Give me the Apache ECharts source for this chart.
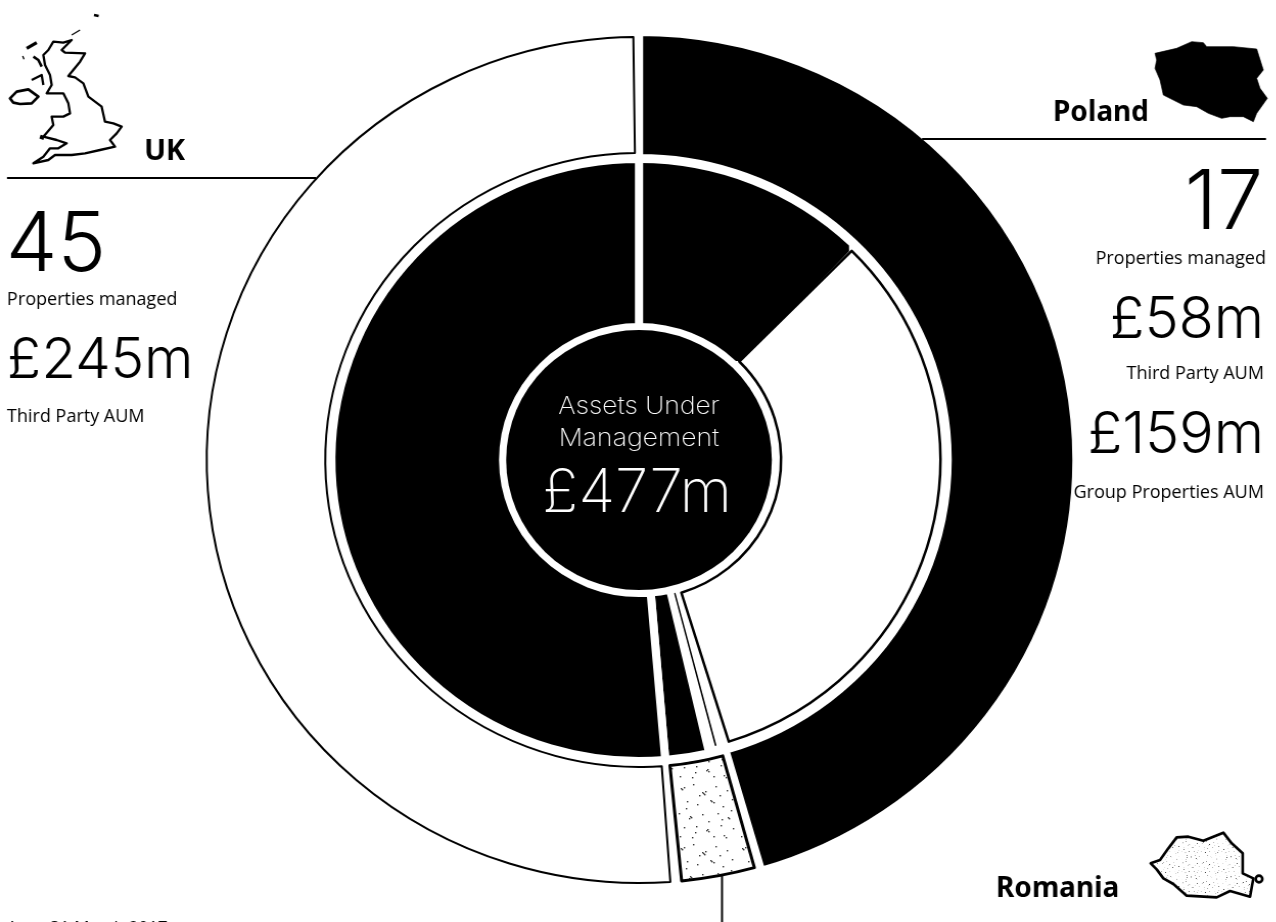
<!DOCTYPE html>
<html>
<head>
<meta charset="utf-8">
<title>Assets Under Management</title>
<style>
  html, body { margin: 0; padding: 0; background: #fff; overflow: hidden; }
  #viewport { width: 1276px; height: 922px; overflow: hidden; }
  #chart { height: 922px; transform-origin: 0 0; }
</style>
<script src="https://cdn.jsdelivr.net/npm/echarts@6/dist/echarts.min.js"></script>
</head>
<body>
<div id="viewport"><div id="chart"></div></div>
<script>
// Portfolio values in GBP millions
const totalAum = 477;
const outerNames = ['Poland', 'Romania', 'UK'];
const outerValues = [217, 15, 245];
const innerNames = ['Poland third party', 'Poland group properties', 'Romania group properties', 'Romania third party', 'UK third party'];
const innerValues = [58, 159, 4, 11, 245];

const labelsUK = ['45', 'Properties managed', '£245m', 'Third Party AUM'];
const labelsPoland = ['17', 'Properties managed', '£58m', 'Third Party AUM', '£159m', 'Group Properties AUM'];

// The rings are slightly wider than tall, so the drawing is stretched horizontally
const STRETCH = 1.022;
const PAGE_W = 1276;
const el = document.getElementById('chart');
el.style.width = (PAGE_W / STRETCH) + 'px';
el.style.transform = 'scaleX(' + STRETCH + ')';

const CX = 639 / STRETCH, CY = 460;
const LIGHT = 'Inter', BODY = '"Open Sans"', HEAD = '"Noto Sans"';

// Sparse speckle tile for the Romania wedge
const specks = [[6,8],[7,9],[9,7],[18,4],[27,12],[28,13],[30,11],[29,14],[40,6],[51,10],[12,21],[22,24],[35,20],[36,21],[38,22],[47,26],[56,19],[4,33],[15,36],[16,37],[14,38],[27,34],[42,33],[52,37],[53,38],[9,47],[21,46],[31,50],[32,49],[33,51],[45,45],[57,48],[5,56],[17,57],[38,56],[48,55],[50,57],[24,15],[44,15],[11,28],[33,41],[46,39],[20,52],[55,30]];
function speckleTile() {
  const c = document.createElement('canvas');
  c.width = c.height = 60;
  const g = c.getContext('2d');
  g.fillStyle = '#fff';
  g.fillRect(0, 0, 60, 60);
  g.fillStyle = '#333';
  specks.forEach(function (p) { g.fillRect(p[0], p[1], 1.4, 1.4); });
  return c;
}
const speckle = { image: speckleTile(), repeat: 'repeat' };

const hidden = { color: 'transparent', borderWidth: 0 };
const solid = { color: '#000', borderColor: '#fff', borderWidth: 8 };

function ring(names, values, radius, padAngle, styles) {
  return {
    type: 'pie',
    silent: true,
    animation: false,
    center: [CX, CY],
    radius: radius,
    startAngle: 90,
    clockwise: true,
    padAngle: padAngle,
    avoidLabelOverlap: false,
    label: { show: false },
    labelLine: { show: false },
    emphasis: { disabled: true },
    data: names.map(function (n, i) {
      return { name: n, value: values[i], itemStyle: styles[n] || hidden };
    })
  };
}

const series = [
  // Outer ring: country split
  ring(outerNames, outerValues, [302, 428], 0, { Poland: solid }),
  ring(outerNames, outerValues, [307, 423], 1.5, {
    UK: { color: '#fff', borderColor: '#000', borderWidth: 2 },
    Romania: { color: speckle, borderColor: '#000', borderWidth: 3 }
  }),
  // Inner ring: third party against group properties
  ring(innerNames, innerValues, [141, 293], 0, {
    'Poland third party': { color: '#000', borderColor: '#000', borderWidth: 8, borderJoin: 'bevel' }
  }),
  ring(innerNames, innerValues, [133, 301], 0, {
    'Romania third party': solid,
    'UK third party': solid
  }),
  ring(innerNames, innerValues, [139, 295], 2.2, {
    'Poland group properties': { color: '#fff', borderColor: '#000', borderWidth: 2.5 }
  }),
  ring(innerNames, innerValues, [138, 295], 2.95, {
    'Romania group properties': { color: '#000', borderColor: '#000', borderWidth: 1.2 }
  }),
  // Centre disc
  ring(['Total'], [totalAum], [0, 130], 0, { Total: { color: '#000', borderWidth: 0 } })
];

function text(str, x, y, size, font, align, opts) {
  opts = opts || {};
  return {
    type: 'text',
    z: 100,
    x: x,
    y: y,
    scaleX: opts.scaleX || 1,
    silent: true,
    style: {
      text: str,
      fill: opts.fill || '#000',
      font: (opts.weight || 400) + ' ' + size + 'px ' + font,
      align: align,
      verticalAlign: 'middle'
    }
  };
}
function rule(x1, y1, x2, y2, w) {
  return { type: 'line', z: 100, silent: true, shape: { x1: x1, y1: y1, x2: x2, y2: y2 }, style: { stroke: '#000', lineWidth: w || 2 } };
}

// Outline traces, each in 3x units and scaled down by its group
function shapeGroup(x, y, children) {
  return { type: 'group', x: x, y: y, scaleX: 1 / 3, scaleY: 1 / 3, silent: true, children: children };
}
function outline(points, w, fill) {
  return { type: 'polygon', z: 100, silent: true, shape: { points: points }, style: { fill: fill || 'none', stroke: '#000', lineWidth: w, lineJoin: 'round' } };
}
function stroke(points, w) {
  return { type: 'polyline', z: 100, silent: true, shape: { points: points }, style: { fill: 'none', stroke: '#000', lineWidth: w, lineJoin: 'round' } };
}

const ukMap = shapeGroup(0, 0, [
  outline([[215,120],[190,128],[160,125],[145,150],[130,165],[135,195],[150,225],[155,255],[140,280],[165,280],[190,280],[205,310],[210,340],[190,350],[155,350],[160,375],[130,410],[170,420],[200,430],[175,445],[150,445],[130,470],[100,490],[145,480],[165,465],[215,465],[255,460],[300,450],[345,440],[330,420],[350,400],[365,380],[340,370],[315,365],[305,320],[265,290],[250,250],[225,232],[205,228],[240,185],[255,160],[195,158],[185,150]], 7),
  outline([[30,295],[50,275],[85,268],[115,290],[95,310],[60,312],[40,308]], 8),
  stroke([[80,145],[110,128]], 10),
  stroke([[100,170],[115,180],[125,200]], 8),
  stroke([[95,240],[125,225],[130,255]], 7),
  stroke([[282,45],[296,48]], 8),
  stroke([[215,105],[240,90]], 4),
  stroke([[68,168],[72,178]], 4),
  stroke([[120,410],[132,414]], 12)
]);
const polandMap = shapeGroup(1000, 0, [
  outline([[465,160],[530,145],[575,125],[610,128],[620,140],[700,140],[770,147],[790,210],[770,235],[780,265],[802,295],[770,340],[760,365],[730,350],[690,350],[665,355],[625,340],[590,320],[550,315],[490,285],[480,240],[465,205],[470,180]], 2, '#000')
]);
const romaniaMap = shapeGroup(960, 780, [
  outline([[572,250],[600,240],[625,205],[650,172],[685,170],[730,182],[790,158],[815,190],[848,220],[848,280],[880,295],[870,350],[810,333],[770,352],[680,347],[640,312],[610,295],[590,268]], 8, speckle),
  { type: 'circle', z: 100, silent: true, shape: { cx: 897, cy: 297, r: 10 }, style: { fill: '#fff', stroke: '#000', lineWidth: 8 } }
]);

const overlay = [
  rule(7, 178, 316, 178),
  rule(922, 139, 1266, 139),
  rule(722, 875, 722, 922),
  ukMap, polandMap, romaniaMap,
  text('UK', 144, 152, 29, HEAD, 'left', { weight: 700 }),
  text('Poland', 1053, 113, 28, HEAD, 'left', { weight: 700 }),
  text('Romania', 996, 889, 28, HEAD, 'left', { weight: 700 }),
  text(labelsUK[0], 6, 246, 82, LIGHT, 'left', { weight: 300 }),
  text(labelsUK[1], 7, 300, 18, BODY, 'left'),
  text(labelsUK[2], 7, 361, 56.5, LIGHT, 'left', { weight: 300 }),
  text(labelsUK[3], 7, 416.5, 18, BODY, 'left'),
  text(labelsPoland[0], 1263, 204, 82, LIGHT, 'right', { weight: 300 }),
  text(labelsPoland[1], 1266, 259, 18, BODY, 'right'),
  text(labelsPoland[2], 1264, 321, 57.5, LIGHT, 'right', { weight: 300 }),
  text(labelsPoland[3], 1264, 374, 18, BODY, 'right'),
  text(labelsPoland[4], 1264, 436, 57.5, LIGHT, 'right', { weight: 300 }),
  text(labelsPoland[5], 1264, 493, 18, BODY, 'right'),
  text('As at 31 March 2017', 7, 928, 17, BODY, 'left'),
  text('Assets Under', 639, 407, 24, LIGHT, 'center', { fill: '#fff', weight: 200, scaleX: 1.1 }),
  text('Management', 639, 439, 24, LIGHT, 'center', { fill: '#fff', weight: 200, scaleX: 1.11 }),
  text('£' + totalAum + 'm', 637, 494, 60, LIGHT, 'center', { fill: '#fff', weight: 200 })
];

const chart = echarts.init(el, null, { renderer: 'canvas' });
chart.setOption({
  animation: false,
  backgroundColor: '#fff',
  series: series,
  graphic: {
    elements: [{ type: 'group', x: 0, y: 0, scaleX: 1 / STRETCH, silent: true, children: overlay }]
  }
});
</script>
</body>
</html>
